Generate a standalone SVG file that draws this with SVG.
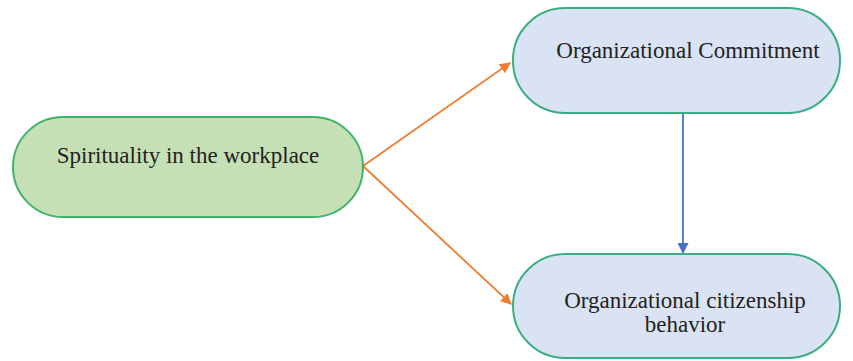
<svg xmlns="http://www.w3.org/2000/svg" width="853" height="361" viewBox="0 0 853 361">
<style>
.lbl{font-family:"Liberation Serif","Times New Roman",serif;font-size:23px;fill:#222;text-anchor:middle}
.g{fill:#c5e0b4;stroke:#3fb36b;stroke-width:2}
.b{fill:#dae3f3;stroke:#3aae80;stroke-width:2}
.o{stroke:#ed7d31;stroke-width:1.8;fill:none}
.bl{stroke:#4472c4;stroke-width:1.8;fill:none}
</style>
<defs>
<marker id="ao" viewBox="0 0 10 10" refX="9" refY="5" markerWidth="13" markerHeight="11" markerUnits="userSpaceOnUse" orient="auto"><path d="M0,0L10,5L0,10z" fill="#ed7d31"/></marker>
<marker id="ab" viewBox="0 0 10 10" refX="9" refY="5" markerWidth="13" markerHeight="11" markerUnits="userSpaceOnUse" orient="auto"><path d="M0,0L10,5L0,10z" fill="#4472c4"/></marker>
</defs>
<rect width="853" height="361" fill="#fff"/>
<g id="connectors">
<line class="o" x1="363" y1="166" x2="510" y2="63" style="marker-end:url(#ao)"/>
<line class="o" x1="363" y1="166" x2="511" y2="304" style="marker-end:url(#ao)"/>
<line class="bl" x1="683" y1="114" x2="683" y2="253" style="marker-end:url(#ab)"/>
</g>
<g id="n1">
<rect class="g" x="13" y="117" width="350" height="100" rx="50"/>
<text class="lbl" x="188" y="163">Spirituality in the workplace</text>
</g>
<g id="n2">
<rect class="b" x="513" y="8" width="327" height="105" rx="52"/>
<text class="lbl" x="688" y="58">Organizational Commitment</text>
</g>
<g id="n3">
<rect class="b" x="513" y="254" width="327" height="104" rx="52"/>
<text class="lbl" x="685" y="308">Organizational citizenship</text>
<text class="lbl" x="685" y="332">behavior</text>
</g>
</svg>
